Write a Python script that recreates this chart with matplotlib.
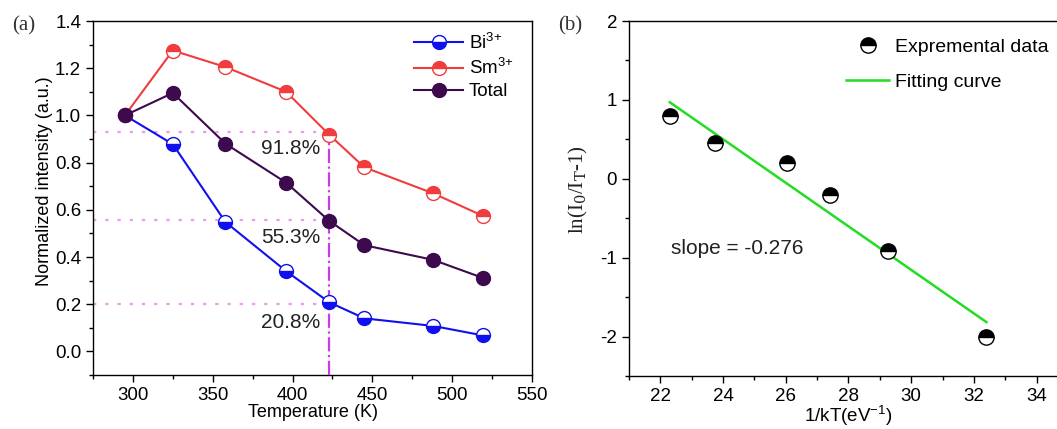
import matplotlib
matplotlib.use("Agg")
import matplotlib.pyplot as plt
import numpy as np
from matplotlib.ticker import MultipleLocator, FormatStrFormatter

plt.rcParams['font.family'] = ['Liberation Sans', 'DejaVu Sans']
plt.rcParams['mathtext.fontset'] = 'custom'
plt.rcParams['mathtext.rm'] = 'Liberation Sans'
plt.rcParams['axes.unicode_minus'] = False

# ---- Panel (a) data ----
temperature = [295, 325, 358, 396, 423, 445, 488, 519]
bi_intensity = [1.0, 0.878, 0.548, 0.34, 0.208, 0.14, 0.108, 0.068]
sm_intensity = [1.0, 1.275, 1.205, 1.10, 0.918, 0.78, 0.67, 0.575]
total_intensity = [1.0, 1.095, 0.88, 0.715, 0.553, 0.45, 0.388, 0.312]
ref_temperature = 423
ref_levels = [0.93, 0.555, 0.20]
ref_labels = ["91.8%", "55.3%", "20.8%"]
ref_label_y = [0.86, 0.483, 0.123]

# ---- Panel (b) data ----
inv_kT = [22.3, 23.75, 26.05, 27.4, 29.25, 32.4]
ln_ratio = [0.8, 0.45, 0.2, -0.2, -0.92, -2.0]
fit_slope = -0.276
fit_intercept = 7.125

W, H = 1057, 429
fig = plt.figure(figsize=(W/100, H/100), dpi=100)

axa = fig.add_axes([93/W, 1-375/H, 439/W, 354/H])
axb = fig.add_axes([629/W, 1-376/H, 439/W, 355/H])

tick_fs = 13.5
for ax in (axa, axb):
    ax.tick_params(which='both', direction='out', top=False, right=False, labelsize=tick_fs, width=1)
    ax.tick_params(which='major', length=5)
    ax.tick_params(which='minor', length=3)
    for s in ax.spines.values():
        s.set_linewidth(1.0)

# Panel (a)
axa.plot(temperature, bi_intensity, '-o', color='#1010ee', lw=1.5, ms=10,
         fillstyle='bottom', markerfacecolor='#1010ee', markerfacecoloralt='white',
         markeredgecolor='#1010ee', markeredgewidth=1.0, label='Bi$^{3{+}}$', zorder=4)
axa.plot(temperature, sm_intensity, '-o', color='#f03c3c', lw=1.5, ms=10,
         fillstyle='top', markerfacecolor='#f03c3c', markerfacecoloralt='white',
         markeredgecolor='#f03c3c', markeredgewidth=1.0, label='Sm$^{3{+}}$', zorder=4)
axa.plot(temperature, total_intensity, '-o', color='#3d0a4d', lw=1.5, ms=10,
         markerfacecolor='#3d0a4d', markeredgecolor='#3d0a4d', label='Total', zorder=4)

axa.set_xlim(275, 550)
axa.set_ylim(-0.1, 1.4)
for lvl in ref_levels:
    axa.plot([275, ref_temperature], [lvl, lvl], ls=(0, (1.5, 4)), color='#ee99f2', lw=1.6, zorder=2)
axa.plot([ref_temperature, ref_temperature], [-0.1, ref_levels[0]], ls='-.', color='#c93ae8', lw=1.6, zorder=3)
for lab, yy in zip(ref_labels, ref_label_y):
    axa.text(399, yy, lab, ha='center', va='center', fontsize=15, color='#222222')

axa.xaxis.set_major_locator(MultipleLocator(50))
axa.xaxis.set_minor_locator(MultipleLocator(25))
axa.yaxis.set_major_locator(MultipleLocator(0.2))
axa.yaxis.set_minor_locator(MultipleLocator(0.1))
axa.yaxis.set_major_formatter(FormatStrFormatter('%.1f'))
axa.set_xlabel('Temperature (K)', fontsize=13, labelpad=0)
axa.set_ylabel('Normalized intensity (a.u.)', fontsize=13)
axa.yaxis.set_label_coords(-0.091, 0.548)
axa.legend(loc='upper right', bbox_to_anchor=(0.975, 0.99), frameon=False, fontsize=13.5,
           handlelength=2.6, borderaxespad=0.0, labelspacing=0.25, handletextpad=0.3)
fig.text(12/W, 1-26/H, '(a)', fontsize=15, family='Liberation Serif', va='center', color='#333333')

# Panel (b)
axb.plot(inv_kT, ln_ratio, 'o', ls='none', ms=11, fillstyle='top',
         markerfacecolor='black', markerfacecoloralt='white', markeredgecolor='black',
         markeredgewidth=1.0, label='Expremental data', zorder=4)
xf = np.array([min(inv_kT), max(inv_kT)])
axb.plot(xf, fit_slope*xf + fit_intercept, color='#22dd22', lw=1.8, label='Fitting curve', zorder=3)
axb.set_xlim(21, 35)
axb.set_ylim(-2.5, 2)
axb.xaxis.set_major_locator(MultipleLocator(2))
axb.xaxis.set_minor_locator(MultipleLocator(1))
axb.yaxis.set_major_locator(MultipleLocator(1))
axb.yaxis.set_minor_locator(MultipleLocator(0.5))
axb.text(24.45, -0.89, 'slope = -0.276', ha='center', va='center', fontsize=15, color='#222222')
axb.set_xlabel('1/kT(eV$^{-1}$)', fontsize=13.5, labelpad=-1)
axb.set_ylabel(r'ln(I$_0$/I$_\mathrm{T}$-1)', fontsize=15, family='Liberation Serif', color='#222222')
axb.yaxis.label.set_math_fontfamily('dejavuserif')
axb.yaxis.set_label_coords(-0.089, 0.524)
axb.legend(loc='upper left', bbox_to_anchor=(0.455, 1.0), frameon=False, fontsize=14,
           handlelength=2.2, labelspacing=0.9, handletextpad=0.3)
fig.text(558/W, 1-26/H, '(b)', fontsize=15, family='Liberation Serif', va='center', color='#333333')

fig.savefig('out.png', dpi=100)
